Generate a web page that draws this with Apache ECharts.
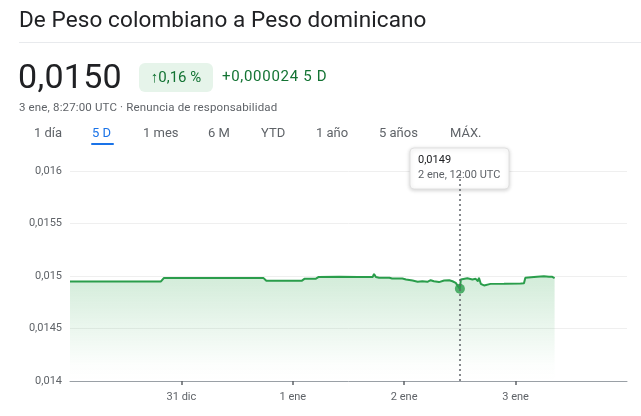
<!DOCTYPE html>
<html>
<head>
<meta charset="utf-8">
<script src="https://cdn.jsdelivr.net/npm/echarts@6/dist/echarts.min.js"></script>
<style>
  html, body { margin: 0; padding: 0; background: #fff; }
  body { width: 641px; height: 416px; position: relative; overflow: hidden; font-family: Roboto, Arial, sans-serif; }
  #chart { position: absolute; left: 0; top: 0; width: 641px; height: 416px; }
  .abs { position: absolute; white-space: nowrap; }
  #title { left: 19px; top: 6px; font-size: 22.5px; color: #202124; letter-spacing: 0.1px; }
  #sep { left: 19px; top: 42px; width: 622px; height: 1px; background: #e8eaed; }
  #price { left: 18px; top: 56px; font-size: 34px; color: #202124; letter-spacing: 0.3px; }
  #chip { left: 139px; top: 63px; width: 74px; height: 29px; background: #e6f4ea; border-radius: 6px; color: #137333; font-size: 15px; line-height: 29px; text-align: center; }
  #change { left: 222px; top: 67px; font-size: 15px; color: #137333; letter-spacing: 0.7px; }
  #stamp { left: 19px; top: 100px; font-size: 11.5px; color: #5f6368; letter-spacing: 0.15px; }
  .tab { top: 125px; font-size: 13px; color: #5f6368; }
  .tab.on { color: #1a73e8; }
  #uline { left: 91px; top: 143px; width: 23px; height: 2px; background: #1a73e8; border-radius: 1px; }
</style>
</head>
<body>
<div id="chart"></div>
<div class="abs" id="title">De Peso colombiano a Peso dominicano</div>
<div class="abs" id="sep"></div>
<div class="abs" id="price">0,0150</div>
<div class="abs" id="chip">↑0,16 %</div>
<div class="abs" id="change">+0,000024 5 D</div>
<div class="abs" id="stamp">3 ene, 8:27:00 UTC · Renuncia de responsabilidad</div>
<div class="abs tab" style="left:34px">1 día</div>
<div class="abs tab on" style="left:92px">5 D</div>
<div class="abs tab" style="left:143px">1 mes</div>
<div class="abs tab" style="left:208px">6 M</div>
<div class="abs tab" style="left:261px">YTD</div>
<div class="abs tab" style="left:316px">1 año</div>
<div class="abs tab" style="left:379px">5 años</div>
<div class="abs tab" style="left:450px">MÁX.</div>
<div class="abs" id="uline"></div>
<script>
// hours since 30 dic 00:00 UTC
const hours = [0, 19.6, 20.2, 41.7, 42.3, 49.9, 50.5, 52.9, 53.5, 58.0, 62.0, 65.2, 65.5, 65.9,
  66.6, 68.8, 69.4, 71.6, 72.4, 73.8, 74.9, 75.9, 77.0, 77.7, 78.4, 79.5, 80.6, 81.7, 82.4,
  83.1, 83.5, 84.0, 84.2, 84.5, 85.6, 86.7, 87.4, 87.7, 87.9, 88.1, 88.5, 89.2, 89.5, 90.6,
  93.5, 97.1, 97.8, 98.1, 98.5, 100.6, 102.1, 103.2, 103.9, 104.4];
const rates = [0.014948, 0.014948, 0.014980, 0.014980, 0.014954, 0.014954, 0.014973, 0.014973,
  0.014990, 0.014992, 0.014990, 0.014990, 0.015020, 0.014990, 0.014983, 0.014983, 0.014976,
  0.014976, 0.014967, 0.014957, 0.014945, 0.014950, 0.014945, 0.014960, 0.014950, 0.014942,
  0.014957, 0.014960, 0.014950, 0.014935, 0.014919, 0.014878, 0.014967, 0.014983, 0.014978,
  0.014967, 0.014973, 0.014985, 0.014950, 0.014983, 0.014926, 0.014910, 0.014928, 0.014925,
  0.014926, 0.014928, 0.014932, 0.014983, 0.014992, 0.014992, 0.014997, 0.014993, 0.014992,
  0.014980];
const dayTicks = [24, 48, 72, 96];
const dayLabels = ['31 dic', '1 ene', '2 ene', '3 ene'];
const hoverHour = 84;
const hoverLabel = '2 ene, 12:00 UTC';

const green = '#2a9d4b';
const hi = hours.indexOf(hoverHour);
const comma = v => String(Number(v.toFixed(4))).replace('.', ',');

let chart = echarts.init(document.getElementById('chart'));
chart.setOption({
  animation: false,
  grid: { left: 70, right: 14, top: 171, bottom: 35 },
  xAxis: {
    type: 'value', min: 0, max: 120, interval: 24,
    axisLine: { show: true, lineStyle: { color: '#9aa0a6', width: 1 } },
    axisTick: { show: true, customValues: dayTicks, length: 4, lineStyle: { color: '#5f6368', width: 1.5 } },
    axisLabel: {
      customValues: dayTicks, margin: 11, color: '#5f6368', fontSize: 11, fontFamily: 'Roboto',
      formatter: v => dayLabels[dayTicks.indexOf(v)] || ''
    },
    splitLine: { show: false }
  },
  yAxis: {
    type: 'value', min: 0.014, max: 0.016, interval: 0.0005,
    axisLine: { show: false }, axisTick: { show: false },
    axisLabel: { color: '#5f6368', fontSize: 11, fontFamily: 'Roboto', margin: 8, formatter: comma },
    splitLine: { lineStyle: { color: '#efefef', width: 1 } }
  },
  series: [{
    type: 'line',
    data: hours.map((h, i) => [h, rates[i]]),
    showSymbol: false,
    lineStyle: { color: green, width: 2 },
    areaStyle: {
      color: new echarts.graphic.LinearGradient(0, 0, 0, 1, [
        { offset: 0, color: 'rgba(52,168,83,0.32)' },
        { offset: 0.85, color: 'rgba(52,168,83,0.02)' },
        { offset: 1, color: 'rgba(52,168,83,0)' }
      ])
    },
    markLine: {
      symbol: 'none', silent: true, label: { show: false },
      lineStyle: { color: '#5f6368', type: [2, 3], width: 1.5 },
      data: [{ xAxis: hours[hi] }]
    },
    z: 2
  }, {
    type: 'scatter',
    data: [[hours[hi], rates[hi]]],
    symbolSize: 10,
    itemStyle: { color: green },
    z: 3
  }]
});

const p = chart.convertToPixel({ gridIndex: 0 }, [hours[hi], rates[hi]]);
const bw = 99, bx = Math.round(p[0] - bw / 2);
chart.setOption({
  graphic: [{
    type: 'group', z: 100,
    children: [{
      type: 'rect',
      shape: { x: bx, y: 148, width: bw, height: 41, r: 4 },
      style: { fill: '#fff', stroke: '#e0e0e0', lineWidth: 1, shadowBlur: 4, shadowColor: 'rgba(0,0,0,0.18)', shadowOffsetY: 1 }
    }, {
      type: 'text', x: bx + 8, y: 155,
      style: { text: comma(rates[hi]), fill: '#202124', font: '11px Roboto' }
    }, {
      type: 'text', x: bx + 8, y: 170,
      style: { text: hoverLabel, fill: '#5f6368', font: '11px Roboto' }
    }]
  }]
});
</script>
</body>
</html>
